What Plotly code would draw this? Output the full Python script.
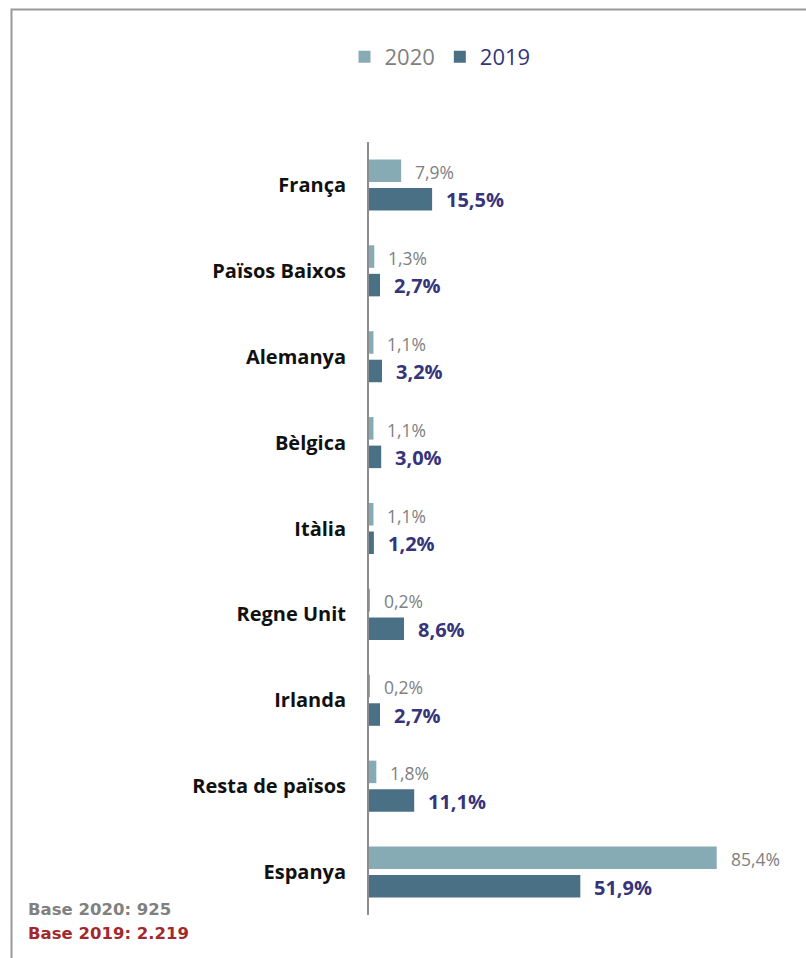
import plotly.graph_objects as go

# Share of visitors by country of origin, 2020 vs 2019 (%)
countries = ["França", "Països Baixos", "Alemanya", "Bèlgica", "Itàlia",
             "Regne Unit", "Irlanda", "Resta de països", "Espanya"]
share_2020 = [7.9, 1.3, 1.1, 1.1, 1.1, 0.2, 0.2, 1.8, 85.4]
share_2019 = [15.5, 2.7, 3.2, 3.0, 1.2, 8.6, 2.7, 11.1, 51.9]
base_notes = ["Base 2020: 925", "Base 2019: 2.219"]

C20 = "#87ABB4"
C19 = "#4A7086"
T20 = "#808080"
T19 = "#36347A"
FONT = "Open Sans, Liberation Sans, sans-serif"

W, H = 806, 958
ML, MR, MT, MB = 369, 5, 142, 43
PW, PH = W - ML - MR, H - MT - MB


def fmt(v):
    return f"{v:.1f}".replace(".", ",") + "%"


fig = go.Figure()
fig.add_trace(go.Bar(
    y=countries, x=share_2020, orientation="h",
    name=f"<span style='color:{T20}'>2020</span>",
    marker=dict(color=C20, line=dict(width=0)),
))
fig.add_trace(go.Bar(
    y=countries, x=share_2019, orientation="h",
    name=f"<span style='color:{T19}'>2019</span>",
    marker=dict(color=C19, line=dict(width=0)),
))

annotations = []
for c, v in zip(countries, share_2020):
    annotations.append(dict(
        x=v, y=c, xref="x", yref="y", text=fmt(v), showarrow=False,
        xanchor="left", yanchor="middle", xshift=12, yshift=13,
        font=dict(family=FONT, size=17.5, color=T20),
    ))
for c, v in zip(countries, share_2019):
    annotations.append(dict(
        x=v, y=c, xref="x", yref="y", text=f"<b>{fmt(v)}</b>", showarrow=False,
        xanchor="left", yanchor="middle", xshift=12, yshift=-15,
        font=dict(family=FONT, size=20, color=T19),
    ))

# base sizes in the lower-left corner
note_colors = [T20, "#A2292B"]
for i, (txt, col) in enumerate(zip(base_notes, note_colors)):
    annotations.append(dict(
        x=(26 - ML) / PW, y=(H - MB - (909 + 24 * i)) / PH,
        xref="paper", yref="paper", text=f"<b>{txt}</b>", showarrow=False,
        xanchor="left", yanchor="middle",
        font=dict(family="DejaVu Sans, Verdana, sans-serif", size=16.5, color=col),
    ))

fig.update_layout(
    width=W, height=H,
    margin=dict(l=ML, r=MR, t=MT, b=MB),
    paper_bgcolor="white", plot_bgcolor="white",
    barmode="group", bargap=0.336, bargroupgap=0.21,
    showlegend=True,
    legend=dict(
        orientation="h", x=(440 - ML) / PW, y=(H - MB - 57) / PH,
        xanchor="center", yanchor="middle",
        font=dict(family=FONT, size=22),
        itemwidth=30, traceorder="normal",
    ),
    xaxis=dict(range=[0, 106.1], visible=False, fixedrange=True),
    yaxis=dict(
        categoryorder="array", categoryarray=countries, autorange="reversed",
        showline=True, linecolor="#8C8C8C", linewidth=2,
        showgrid=False, zeroline=False, ticks="", ticklabelstandoff=17,
        tickfont=dict(family=FONT, size=20, color="#111111"),
        tickvals=countries, ticktext=[f"<b>{c}</b>" for c in countries],
    ),
    annotations=annotations,
    shapes=[dict(
        type="rect", xref="paper", yref="paper",
        x0=(11.5 - ML) / PW, x1=1.2, y0=-0.3, y1=(H - MB - 9.5) / PH,
        line=dict(color="#9A9A9A", width=2), fillcolor="rgba(0,0,0,0)",
    )],
)

fig.write_html("out.html")
